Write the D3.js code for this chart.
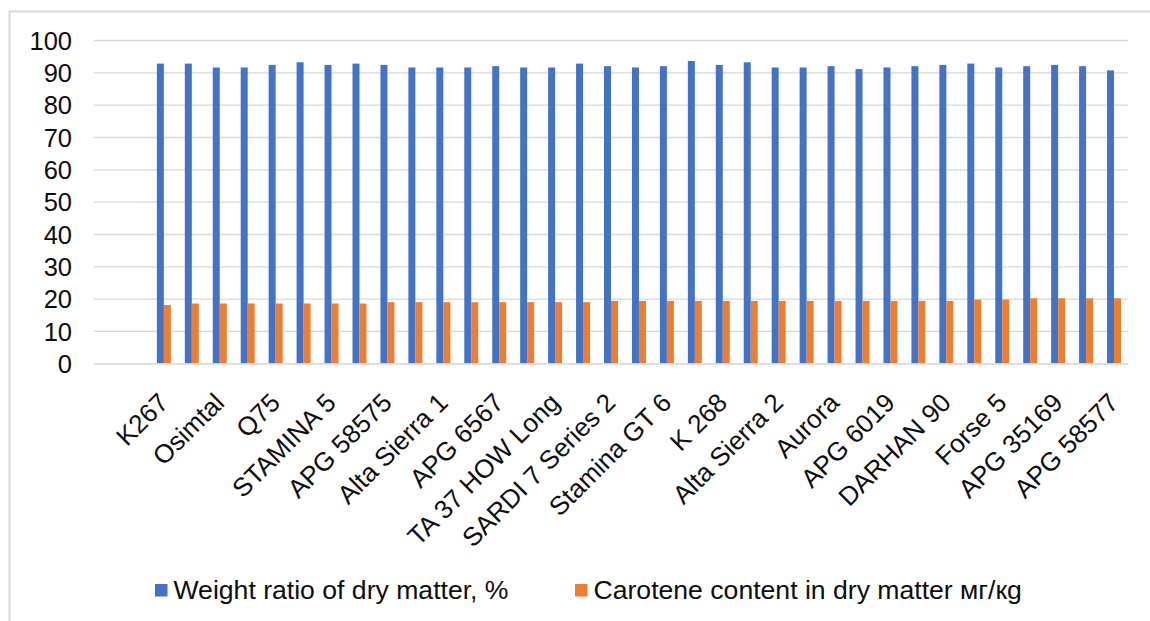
<!DOCTYPE html>
<html>
<head>
<meta charset="utf-8">
<script src="https://cdn.jsdelivr.net/npm/d3@7"></script>
<style>
  html, body { margin: 0; padding: 0; background: #fff; }
  svg { display: block; }
  text { font-family: "Liberation Sans", Arial, sans-serif; fill: #0d0d0d; }
</style>
</head>
<body>
<svg id="chart" width="1150" height="621"></svg>
<script>
// Category slots (first two slots are empty; only every other label is shown)
const categories = ["", "", "K267", "", "Osimtal", "", "Q75", "", "STAMINA 5", "", "APG 58575", "",
  "Alta Sierra 1", "", "APG 6567", "", "TA 37 HOW Long", "", "SARDI 7 Series 2", "", "Stamina GT 6", "",
  "K 268", "", "Alta Sierra 2", "", "Aurora", "", "APG 6019", "", "DARHAN 90", "", "Forse 5", "",
  "APG 35169", "", "APG 58577"];

// Weight ratio of dry matter, %
const dryMatter = [null, null,
  92.7, 92.7, 91.5, 91.5, 92.3, 93.1, 92.3, 92.7, 92.3, 91.5, 91.5, 91.5,
  91.9, 91.5, 91.5, 92.7, 91.9, 91.5, 91.9, 93.5, 92.3, 93.1, 91.5, 91.5,
  91.9, 91.0, 91.5, 91.9, 92.3, 92.7, 91.5, 91.9, 92.3, 91.9, 90.6];

// Carotene content in dry matter мг/кg
const carotene = [null, null,
  18.0, 18.5, 18.5, 18.5, 18.5, 18.5, 18.5, 18.5, 18.9, 18.9, 18.9, 18.9,
  18.9, 18.9, 18.9, 18.9, 19.3, 19.3, 19.3, 19.3, 19.3, 19.3, 19.3, 19.3,
  19.3, 19.3, 19.3, 19.3, 19.3, 19.7, 19.7, 20.1, 20.1, 20.1, 20.1];

const seriesNames = ["Weight ratio of dry matter, %", "Carotene content in dry matter мг/кg"];
const seriesColors = ["#4472C4", "#ED7D31"];
const yTicks = [0, 10, 20, 30, 40, 50, 60, 70, 80, 90, 100];

(function () {
const svg = d3.select("#chart");
const FONT = '"Liberation Sans", Arial, sans-serif';

// outer chart border (cropped on right/bottom)
svg.append("rect")
  .attr("x", 9.5).attr("y", 11.5)
  .attr("width", 1200).attr("height", 700)
  .attr("fill", "none").attr("stroke", "#d9d9d9").attr("stroke-width", 2);

const plotL = 94, plotR = 1128, plotT = 40, plotB = 363.3;

const x = d3.scaleBand().domain(d3.range(categories.length)).range([plotL, plotR]).padding(0);
const xs = d3.scaleBand().domain([0, 1]).range([0, x.bandwidth()]).paddingInner(0).paddingOuter(1);
const y = d3.scaleLinear().domain([0, 100]).range([plotB, plotT]);

// y axis with gridlines
const yAxis = svg.append("g")
  .attr("transform", `translate(${plotL},0)`)
  .call(d3.axisLeft(y).tickValues(yTicks).tickSize(-(plotR - plotL)).tickPadding(22));
yAxis.select(".domain").remove();
yAxis.selectAll(".tick line").attr("stroke", "#d9d9d9").attr("stroke-width", 1.3);
yAxis.selectAll(".tick text")
  .attr("font-size", 25.5).attr("fill", "#0d0d0d").attr("dy", "0.36em")
  .style("font-family", FONT);

// bars
const series = [dryMatter, carotene];
series.forEach((vals, si) => {
  svg.append("g").selectAll("rect")
    .data(vals.map((v, i) => ({ i, v })).filter(d => d.v !== null))
    .join("rect")
    .attr("x", d => x(d.i) + xs(si))
    .attr("width", xs.bandwidth())
    .attr("y", d => y(d.v))
    .attr("height", d => y(0) - y(d.v))
    .attr("fill", seriesColors[si]);
});

// x axis
const xAxis = svg.append("g")
  .attr("transform", `translate(0,${plotB})`)
  .call(d3.axisBottom(x).tickSize(0).tickFormat(i => categories[i]));
xAxis.select(".domain").attr("stroke", "#d9d9d9").attr("stroke-width", 1.3);
xAxis.selectAll(".tick text")
  .attr("font-size", 26).attr("fill", "#0d0d0d")
  .style("font-family", FONT)
  .attr("text-anchor", "end")
  .attr("x", 0).attr("y", 0).attr("dy", "0.71em")
  .attr("transform", "translate(-7,28) rotate(-45)");

// legend
const legendX = [155, 575];
const legend = svg.append("g");
seriesNames.forEach((name, si) => {
  legend.append("rect")
    .attr("x", legendX[si]).attr("y", 584)
    .attr("width", 12.5).attr("height", 12.5)
    .attr("fill", seriesColors[si]);
  legend.append("text")
    .attr("x", legendX[si] + 18.5).attr("y", 598.5)
    .attr("font-size", 26.6)
    .text(name);
});
})();
</script>
</body>
</html>
